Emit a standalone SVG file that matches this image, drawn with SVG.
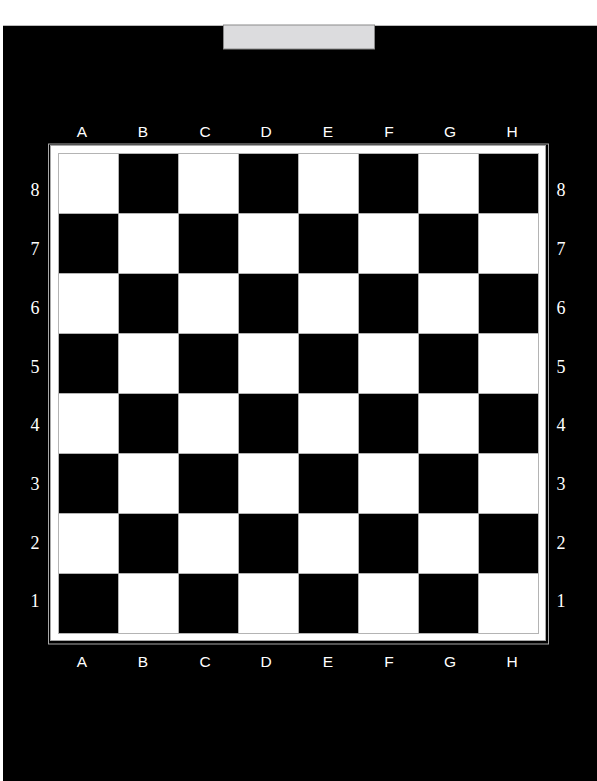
<svg xmlns="http://www.w3.org/2000/svg" width="597" height="781" viewBox="0 0 597 781">
<style>
.l{fill:#fff;stroke:#b4b4b4;stroke-width:1}
.d{fill:#000;stroke:#b4b4b4;stroke-width:1}
.f{fill:#fff;font-family:"Liberation Sans",Arial,sans-serif;font-size:15.5px;text-anchor:middle}
.n{fill:#fff;font-family:"Liberation Serif","Times New Roman",serif;font-size:18px;text-anchor:middle}
</style>
<rect x="0" y="0" width="597" height="781" fill="#fff"/>
<rect x="3" y="25" width="594" height="756" fill="#000"/>
<line x1="3" y1="25.5" x2="597" y2="25.5" stroke="#bbb" stroke-width="1"/>
<g id="tab"><rect x="223.5" y="25" width="151" height="24" fill="#dcdcde" stroke="#8a8a8a" stroke-width="1"/></g>
<g id="frame">
<rect x="48.5" y="144" width="500" height="500" fill="#000" stroke="#a8a8a8" stroke-width="1"/>
<rect x="50.5" y="145.5" width="495" height="495" fill="#fff" stroke="#a8a8a8" stroke-width="1"/>
</g>
<g id="squares">
<rect class="l" x="58.5" y="153.5" width="60" height="60"/><rect class="d" x="118.5" y="153.5" width="60" height="60"/><rect class="l" x="178.5" y="153.5" width="60" height="60"/><rect class="d" x="238.5" y="153.5" width="60" height="60"/><rect class="l" x="298.5" y="153.5" width="60" height="60"/><rect class="d" x="358.5" y="153.5" width="60" height="60"/><rect class="l" x="418.5" y="153.5" width="60" height="60"/><rect class="d" x="478.5" y="153.5" width="60" height="60"/>
<rect class="d" x="58.5" y="213.5" width="60" height="60"/><rect class="l" x="118.5" y="213.5" width="60" height="60"/><rect class="d" x="178.5" y="213.5" width="60" height="60"/><rect class="l" x="238.5" y="213.5" width="60" height="60"/><rect class="d" x="298.5" y="213.5" width="60" height="60"/><rect class="l" x="358.5" y="213.5" width="60" height="60"/><rect class="d" x="418.5" y="213.5" width="60" height="60"/><rect class="l" x="478.5" y="213.5" width="60" height="60"/>
<rect class="l" x="58.5" y="273.5" width="60" height="60"/><rect class="d" x="118.5" y="273.5" width="60" height="60"/><rect class="l" x="178.5" y="273.5" width="60" height="60"/><rect class="d" x="238.5" y="273.5" width="60" height="60"/><rect class="l" x="298.5" y="273.5" width="60" height="60"/><rect class="d" x="358.5" y="273.5" width="60" height="60"/><rect class="l" x="418.5" y="273.5" width="60" height="60"/><rect class="d" x="478.5" y="273.5" width="60" height="60"/>
<rect class="d" x="58.5" y="333.5" width="60" height="60"/><rect class="l" x="118.5" y="333.5" width="60" height="60"/><rect class="d" x="178.5" y="333.5" width="60" height="60"/><rect class="l" x="238.5" y="333.5" width="60" height="60"/><rect class="d" x="298.5" y="333.5" width="60" height="60"/><rect class="l" x="358.5" y="333.5" width="60" height="60"/><rect class="d" x="418.5" y="333.5" width="60" height="60"/><rect class="l" x="478.5" y="333.5" width="60" height="60"/>
<rect class="l" x="58.5" y="393.5" width="60" height="60"/><rect class="d" x="118.5" y="393.5" width="60" height="60"/><rect class="l" x="178.5" y="393.5" width="60" height="60"/><rect class="d" x="238.5" y="393.5" width="60" height="60"/><rect class="l" x="298.5" y="393.5" width="60" height="60"/><rect class="d" x="358.5" y="393.5" width="60" height="60"/><rect class="l" x="418.5" y="393.5" width="60" height="60"/><rect class="d" x="478.5" y="393.5" width="60" height="60"/>
<rect class="d" x="58.5" y="453.5" width="60" height="60"/><rect class="l" x="118.5" y="453.5" width="60" height="60"/><rect class="d" x="178.5" y="453.5" width="60" height="60"/><rect class="l" x="238.5" y="453.5" width="60" height="60"/><rect class="d" x="298.5" y="453.5" width="60" height="60"/><rect class="l" x="358.5" y="453.5" width="60" height="60"/><rect class="d" x="418.5" y="453.5" width="60" height="60"/><rect class="l" x="478.5" y="453.5" width="60" height="60"/>
<rect class="l" x="58.5" y="513.5" width="60" height="60"/><rect class="d" x="118.5" y="513.5" width="60" height="60"/><rect class="l" x="178.5" y="513.5" width="60" height="60"/><rect class="d" x="238.5" y="513.5" width="60" height="60"/><rect class="l" x="298.5" y="513.5" width="60" height="60"/><rect class="d" x="358.5" y="513.5" width="60" height="60"/><rect class="l" x="418.5" y="513.5" width="60" height="60"/><rect class="d" x="478.5" y="513.5" width="60" height="60"/>
<rect class="d" x="58.5" y="573.5" width="60" height="60"/><rect class="l" x="118.5" y="573.5" width="60" height="60"/><rect class="d" x="178.5" y="573.5" width="60" height="60"/><rect class="l" x="238.5" y="573.5" width="60" height="60"/><rect class="d" x="298.5" y="573.5" width="60" height="60"/><rect class="l" x="358.5" y="573.5" width="60" height="60"/><rect class="d" x="418.5" y="573.5" width="60" height="60"/><rect class="l" x="478.5" y="573.5" width="60" height="60"/>
</g>
<g id="files-top">
<text class="f" x="82" y="137">A</text><text class="f" x="143" y="137">B</text><text class="f" x="205" y="137">C</text><text class="f" x="266" y="137">D</text><text class="f" x="328" y="137">E</text><text class="f" x="389" y="137">F</text><text class="f" x="450" y="137">G</text><text class="f" x="512" y="137">H</text>
</g>
<g id="files-bottom">
<text class="f" x="82" y="667">A</text><text class="f" x="143" y="667">B</text><text class="f" x="205" y="667">C</text><text class="f" x="266" y="667">D</text><text class="f" x="328" y="667">E</text><text class="f" x="389" y="667">F</text><text class="f" x="450" y="667">G</text><text class="f" x="512" y="667">H</text>
</g>
<g id="ranks-left">
<text class="n" x="35" y="196">8</text><text class="n" x="35" y="255">7</text><text class="n" x="35" y="314">6</text><text class="n" x="35" y="373">5</text><text class="n" x="35" y="431">4</text><text class="n" x="35" y="490">3</text><text class="n" x="35" y="549">2</text><text class="n" x="35" y="607">1</text>
</g>
<g id="ranks-right">
<text class="n" x="561" y="196">8</text><text class="n" x="561" y="255">7</text><text class="n" x="561" y="314">6</text><text class="n" x="561" y="373">5</text><text class="n" x="561" y="431">4</text><text class="n" x="561" y="490">3</text><text class="n" x="561" y="549">2</text><text class="n" x="561" y="607">1</text>
</g>
</svg>
